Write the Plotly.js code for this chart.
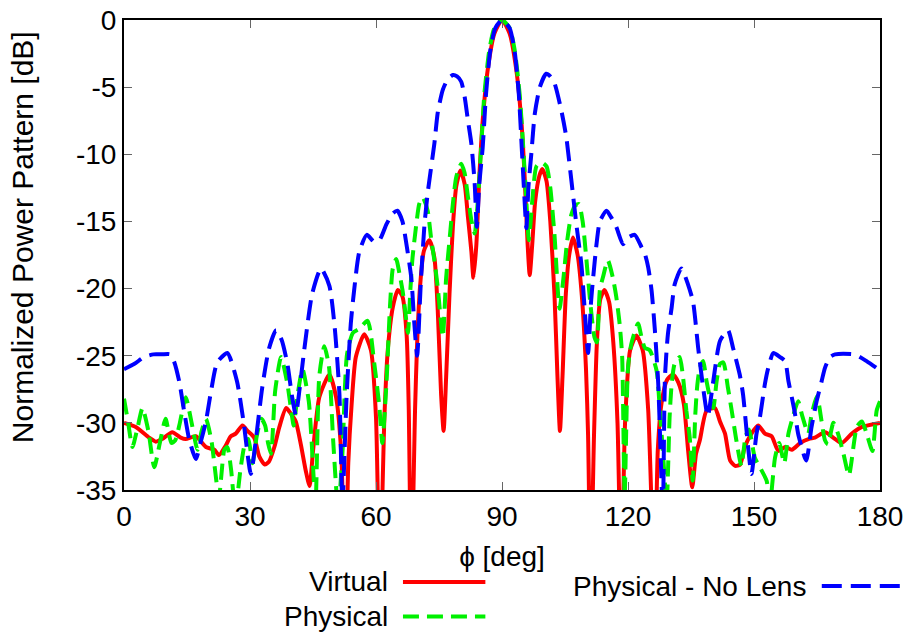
<!DOCTYPE html>
<html><head><meta charset="utf-8">
<script src="https://cdn.plot.ly/plotly-3.0.1.min.js"></script>
<style>html,body{margin:0;padding:0;background:#fff}#chart{width:913px;height:635px}</style>
</head><body><div id="chart"></div>
<script>
// ---- data ----
const virtualPhi = [0,2.8,6,7.6,9.1,11.5,13.5,14.7,17.1,19.5,21.5,22.6,24.2,25.4,26.6,28.2,29.4,31,32.2,33.5,34.5,35.8,37,38.6,39.7,40.9,42.1,43.3,44.2,45.0,46.5,48.9,50.5,51.7,52.7,53.4,54.2,55.2,57.2,58.8,60.0,60.9,62.0,62.8,64.0,65.2,66.3,67.3,67.8,68.4,69.3,69.8,70.5,71.4,72.7,73.9,74.7,75.5,76.1,76.7,77.5,78.3,79.1,80.1,81.1,81.9,82.7,83.2,83.9,84.6,85.4,86.6,88.2,90,
  91.8,93.4,94.6,95.4,96.1,96.6,97.2,97.9,98.9,99.6,100.6,101.5,102.5,103.2,103.8,104.4,105.2,106.0,106.9,108.0,109.0,110.0,110.5,111.1,111.9,112.6,113.4,114.4,115.5,116.5,117.5,118.4,119.3,120.5,122.0,123.5,124.8,126.3,127.1,128.0,129.3,130.7,132.0,133.3,134.3,135.3,136.2,137.1,138.7,140.7,141.9,143.1,144.3,145.5,146.7,147.8,149.4,151.0,152.6,154.2,155.8,157.4,159.0,161.0,163.1,164.5,166.9,169.3,170.9,173.3,175.7,180];
const virtualDb = [-30.0,-30.3,-31.1,-31.4,-31.2,-30.7,-31.1,-31.2,-31.0,-31.8,-32.0,-32.4,-31.7,-31.0,-30.8,-30.2,-30.6,-31.1,-32.5,-33.1,-32.9,-31.8,-30.3,-28.9,-29.3,-29.9,-31.6,-33.6,-34.7,-32.1,-28.1,-26.4,-28.1,-32.1,-42,-33,-28.6,-25.1,-23.4,-24.6,-29.6,-42,-29.6,-24.6,-21.4,-20.1,-20.6,-23.5,-29,-42,-29,-24,-19.8,-17.2,-16.4,-17.7,-21.6,-27.9,-30.6,-26.6,-20.4,-15.4,-12.4,-11.2,-12.2,-14.7,-17.2,-19.2,-16.7,-11.7,-7.5,-3.7,-1.0,0,
  -1.0,-3.7,-7.5,-11.7,-16.7,-19.0,-16.7,-13.5,-11.6,-11.1,-12.0,-15.0,-20.5,-26.5,-30.6,-26.6,-20.4,-17.5,-16.2,-17.5,-20.5,-26,-31,-42,-31,-24,-20.8,-20.1,-21,-24,-30,-42,-30,-24.6,-23.5,-24.6,-29,-42,-32,-28.5,-26.8,-26.4,-27.0,-28.6,-32.0,-34.8,-32.3,-31.3,-29.1,-28.9,-29.9,-30.8,-32.8,-33.2,-33.1,-31.8,-30.8,-30.2,-30.8,-31.0,-32.1,-31.8,-32.0,-31.5,-31.2,-31.1,-30.7,-31.2,-31.5,-30.8,-30.3,-30.0];

const physicalPhi = [0,1.0,2.0,3.2,4.4,5.8,7.2,8.6,9.9,11.3,12.2,13.3,14.7,16.1,17.5,18.5,19.5,20.8,22.6,23.9,24.6,25.5,26.5,27.8,29.0,29.6,30.6,31.6,32.7,33.6,34.3,35.0,36.0,37.4,38.9,40.0,40.4,41.3,42.5,44.0,44.6,45.6,46.5,47.7,48.8,49.8,51.0,52.0,53.1,54.5,56.0,58.0,59.6,60.8,61.5,62.5,63.3,64.0,64.8,65.6,66.3,67.0,67.6,68.2,68.7,69.6,70.3,71.1,72.3,73.1,73.9,74.7,75.9,76.7,77.5,78.3,79.1,80.3,81.1,81.9,82.7,83.5,84.3,85.1,85.8,87.0,88.2,90,
  91.8,93.0,94.2,95.0,95.8,96.4,97.2,98.2,99.4,100.6,101.5,102.5,103.7,104.7,105.5,106.5,107.5,108.3,109.2,110.0,111.0,112.0,112.6,113.3,114.0,115.2,116.4,117.2,118.0,118.6,119.2,120.0,120.8,122.4,123.2,124.0,125.2,126.8,127.6,128.3,129.2,129.9,130.4,131.1,132.3,133.1,133.9,134.7,135.4,136.0,136.5,137.1,137.9,138.7,139.5,140.3,141.1,141.9,142.7,143.8,144.7,145.8,147.0,148.0,148.8,150.2,151.4,153.0,153.8,155.0,156.0,157.2,158.2,159.4,160.5,161.5,162.9,163.7,165.0,166.1,166.9,167.6,168.9,170.0,171.3,172.6,174.5,175.7,177.0,178.2,179.2,180];
const physicalDb = [-28.2,-30.0,-31.8,-30.4,-28.9,-30.6,-33.3,-31.4,-29.7,-31.5,-31.3,-30.0,-28.1,-30.0,-32.0,-30.6,-29.7,-31.3,-35.5,-32.0,-31.8,-33.5,-36.5,-33.3,-31.3,-31.2,-33.0,-31.0,-29.7,-30.2,-31.5,-32.3,-27.6,-25.1,-27.1,-29.5,-30.2,-28.0,-26.0,-28.4,-31.0,-36.0,-26.5,-24.3,-25.8,-31.3,-36.5,-32.3,-24.9,-23.3,-23.0,-22.4,-25.6,-28.8,-31.5,-27.0,-21.5,-18.5,-17.8,-18.9,-20.1,-21.8,-23.3,-20.0,-17.7,-15.2,-13.7,-13.2,-14.2,-16.2,-17.9,-19.9,-23.6,-19.2,-16.4,-13.7,-11.7,-10.7,-11.4,-13.2,-14.9,-15.9,-13.2,-9.2,-5.5,-2.2,-0.6,0,
  -0.6,-2.2,-5.5,-9.2,-13.5,-16.4,-13.5,-10.9,-10.6,-10.9,-12.5,-16.0,-21.5,-19.0,-16.5,-14.5,-13.8,-13.7,-15.0,-17.5,-21.0,-23.6,-24.0,-20.1,-19.2,-17.9,-19.2,-20.6,-22.6,-25.0,-35.5,-25.9,-24.1,-22.6,-23.6,-24.4,-24.6,-26.1,-29.1,-32.1,-36.0,-29.6,-27.1,-25.6,-25.1,-26.6,-29.1,-31.1,-34.3,-29.5,-27.2,-25.9,-25.4,-26.9,-28.1,-28.9,-26.9,-25.6,-25.5,-27.4,-29.1,-31.3,-33.2,-31.0,-30.5,-32.6,-33.3,-34.3,-36.0,-32.6,-31.5,-33.0,-30.8,-29.4,-28.4,-29.5,-30.8,-29.4,-28.0,-29.9,-31.3,-31.6,-30.0,-30.8,-32.3,-33.9,-30.3,-29.9,-31.0,-32.1,-29.1,-28.4];

const noLensPhi = [0,2.5,4.8,7,9,11,12,13.2,14.3,15.5,17.1,18.2,19.5,20.8,22.2,24.6,26.9,28.5,30.2,31.5,32.9,34.5,36.2,37.5,38.9,40.0,40.9,41.8,42.9,44.8,46.9,48.9,50.2,51.3,52.0,53.0,54.0,54.8,56.0,57.8,59.5,60.8,62.5,64.0,65.1,66.3,67.1,68.4,69.1,69.8,70.6,71.5,72.3,73.9,74.7,75.9,77.1,78.3,79.3,80.3,81.1,81.9,82.7,83.5,84.0,84.6,85.4,86.2,87.2,88.4,90,
  91.8,93.0,94.0,94.7,95.3,95.8,96.3,97.0,97.8,99.0,100.5,101.5,102.5,104.1,105.3,106.5,107.7,108.9,109.7,110.5,111.2,111.7,112.5,113.3,114.9,116.0,117.2,118.8,120.0,121.6,123.2,124.0,124.8,125.6,126.4,127.2,128.0,128.3,128.8,129.5,130.4,131.1,132.7,134.3,135.5,136.7,137.9,139.0,140.3,141.9,143.8,145.0,146.6,147.4,148.6,149.4,150.6,151.4,152.6,153.4,154.6,156.2,157.4,158.2,159.0,159.8,160.5,162.1,162.5,163.7,164.9,166.1,166.9,168.1,169.3,173.9,176.8,180];
const noLensDb = [-26.0,-25.6,-25.1,-24.9,-24.9,-24.9,-25.5,-27.0,-29.1,-31.2,-32.7,-31.5,-29.9,-27.5,-25.5,-24.8,-26.9,-30.0,-33.8,-31.0,-27.4,-24.5,-23.1,-23.8,-25.6,-28.0,-29.4,-27.5,-24.6,-20.4,-18.5,-19.8,-23.0,-27.9,-36.0,-28.0,-22.6,-20.1,-17.3,-16.0,-16.5,-16.4,-15.2,-14.4,-14.2,-15.0,-16.4,-19.2,-22.5,-25.0,-20.0,-15.4,-12.9,-9.2,-6.9,-5.2,-4.4,-4.1,-4.2,-4.6,-5.7,-7.5,-9.2,-12.2,-15.4,-12.2,-9.5,-5.5,-2.3,-0.6,0,
  -0.6,-2.3,-5.5,-9.5,-13.0,-15.5,-12.4,-9.9,-7.0,-5.0,-4.0,-4.2,-4.7,-6.7,-8.7,-11.9,-15.2,-18.2,-21.6,-24.8,-21.0,-19.2,-16.7,-15.0,-14.2,-14.7,-15.4,-16.7,-16.2,-16.0,-16.9,-17.4,-18.4,-20.1,-23.1,-27.1,-34.6,-37.0,-26.6,-23.4,-21.4,-19.7,-18.5,-19.7,-21.0,-24.4,-27.4,-29.5,-26.9,-23.9,-23.1,-24.4,-26.4,-27.9,-31.8,-33.8,-30.8,-29.6,-27.1,-25.9,-24.8,-25.1,-25.4,-26.9,-28.1,-29.4,-30.8,-32.6,-32.8,-30.3,-28.4,-26.9,-25.9,-25.1,-24.9,-24.9,-25.4,-26.1];

const seriesNames = ['Virtual', 'Physical', 'Physical - No Lens'];
const xTickVals = [0, 30, 60, 90, 120, 150, 180];
const xTickText = ['0', '30', '60', '90', '120', '150', '180'];
const yTickVals = [-35, -30, -25, -20, -15, -10, -5, 0];
const yTickText = ['-35', '-30', '-25', '-20', '-15', '-10', '-5', '0'];
const xTitle = 'ϕ [deg]';
const yTitle = 'Normalized Power Pattern [dB]';

// ---- chart ----
const FONT = 'Liberation Sans, Arial, Helvetica, sans-serif';
const RED = '#ff0000', GREEN = '#00f000', BLUE = '#0000ff';
const traces = [
  {x: virtualPhi, y: virtualDb, name: seriesNames[0], mode: 'lines',
   line: {color: RED, width: 4, shape: 'spline', smoothing: 0.6}},
  {x: physicalPhi, y: physicalDb, name: seriesNames[1], mode: 'lines',
   line: {color: GREEN, width: 4, dash: '16px,8px', shape: 'spline', smoothing: 0.6}},
  {x: noLensPhi, y: noLensDb, name: seriesNames[2], mode: 'lines',
   line: {color: BLUE, width: 4, dash: '20px,9px', shape: 'spline', smoothing: 0.6}}
];

const legendY = [-0.1957, -0.2691, -0.2043];
const layout = {
  width: 913, height: 635,
  margin: {l: 124, r: 33, t: 20, b: 145, pad: 0},
  paper_bgcolor: '#ffffff', plot_bgcolor: '#ffffff',
  font: {family: FONT, size: 28, color: '#000'},
  showlegend: false,
  xaxis: {range: [0, 180], tickvals: xTickVals, ticktext: xTickText,
    ticks: 'inside', ticklen: 8, tickwidth: 1, tickcolor: '#666',
    mirror: 'allticks', showline: true, linecolor: '#000', linewidth: 2,
    showgrid: false, zeroline: false, tickfont: {size: 28},
    title: {text: xTitle, standoff: 16, font: {size: 28}}},
  yaxis: {range: [-35, 0], tickvals: yTickVals, ticktext: yTickText,
    ticks: 'inside', ticklen: 8, tickwidth: 1, tickcolor: '#666',
    mirror: 'allticks', showline: true, linecolor: '#000', linewidth: 2,
    showgrid: false, zeroline: false, tickfont: {size: 28}},
  annotations: [
    {xref: 'paper', yref: 'paper', x: -0.1349, y: 0.538, text: yTitle, textangle: -90, showarrow: false, xanchor: 'center', yanchor: 'middle', font: {size: 30}},
    {xref: 'paper', yref: 'paper', x: 0.352, y: legendY[0], text: seriesNames[0], showarrow: false, xanchor: 'right', yanchor: 'middle', font: {size: 28}},
    {xref: 'paper', yref: 'paper', x: 0.352, y: legendY[1], text: seriesNames[1], showarrow: false, xanchor: 'right', yanchor: 'middle', font: {size: 28}},
    {xref: 'paper', yref: 'paper', x: 0.905, y: legendY[2], text: seriesNames[2], showarrow: false, xanchor: 'right', yanchor: 'middle', font: {size: 28}}
  ],
  shapes: [
    {type: 'line', xref: 'paper', yref: 'paper', x0: 0.369, x1: 0.478, y0: legendY[0], y1: legendY[0], line: {color: RED, width: 4}},
    {type: 'line', xref: 'paper', yref: 'paper', x0: 0.369, x1: 0.478, y0: legendY[1], y1: legendY[1], line: {color: GREEN, width: 4, dash: '16px,8px'}},
    {type: 'line', xref: 'paper', yref: 'paper', x0: 0.923, x1: 1.033, y0: legendY[2], y1: legendY[2], line: {color: BLUE, width: 4, dash: '20px,9px'}}
  ]
};
Plotly.newPlot('chart', traces, layout, {staticPlot: true, displayModeBar: false});
</script>
</body></html>
